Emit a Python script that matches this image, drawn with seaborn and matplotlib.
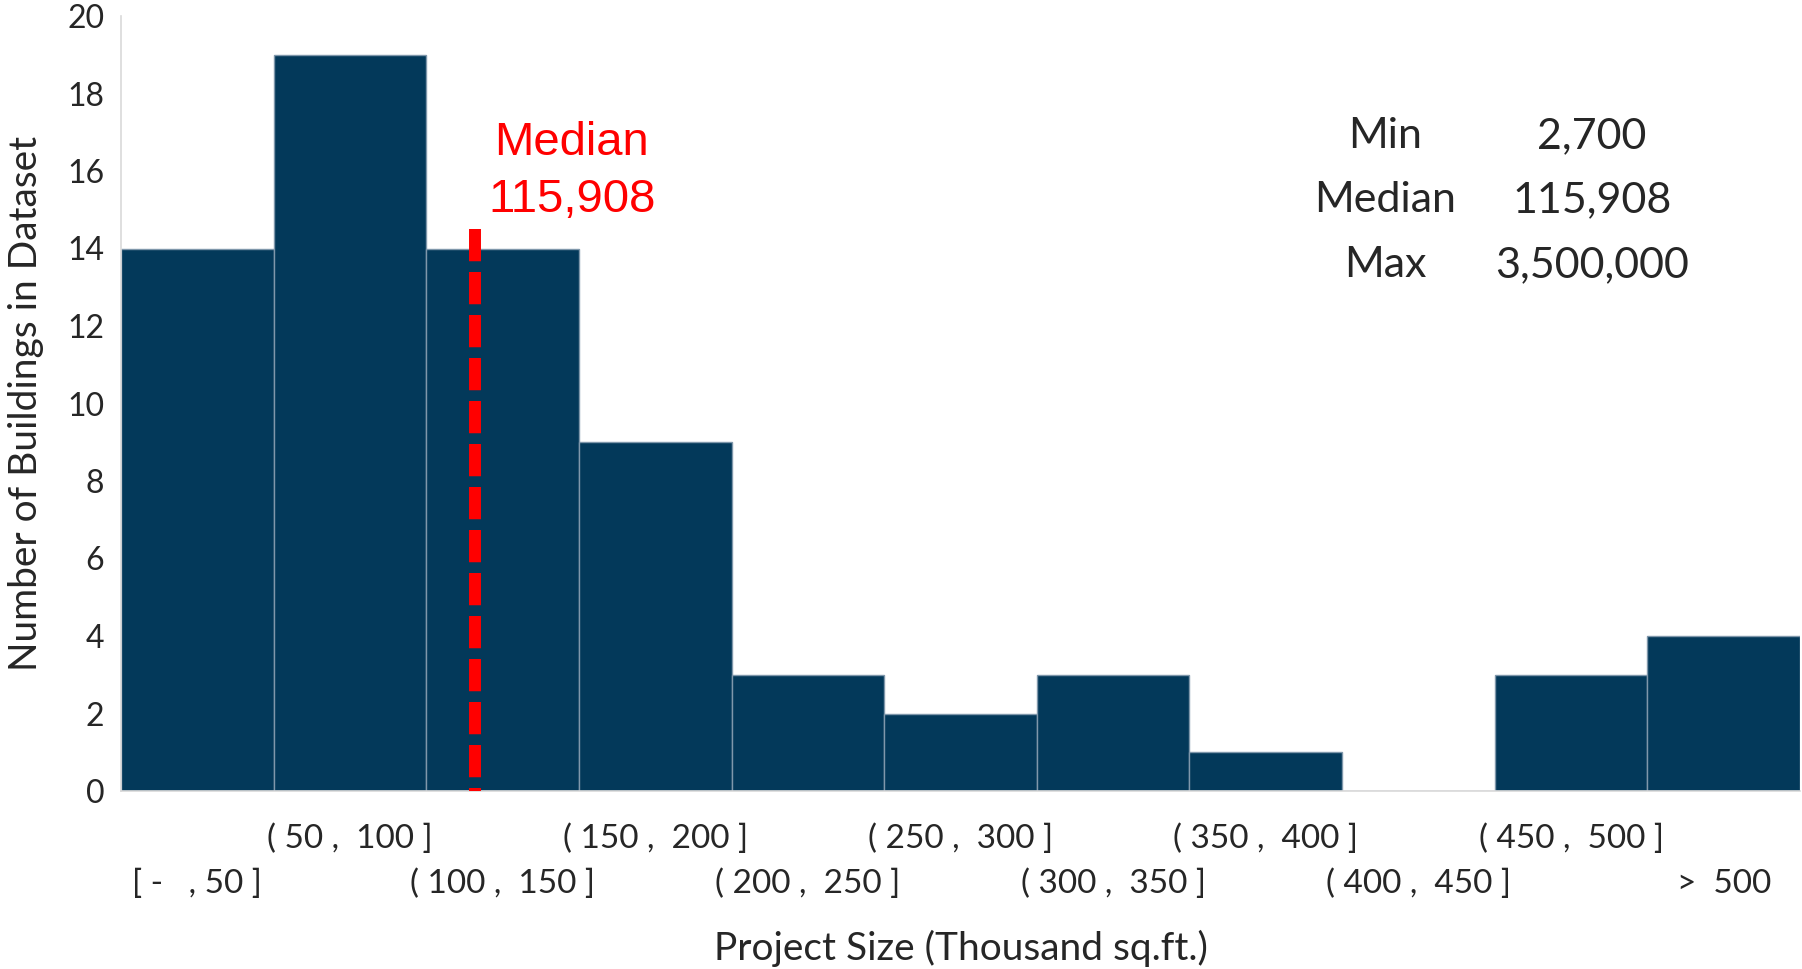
import matplotlib
matplotlib.use("Agg")
import matplotlib.pyplot as plt
import numpy as np
import pandas as pd
import seaborn as sns

# data: building count per project-size bin (thousand sq.ft.)
bin_edges = [0, 50, 100, 150, 200, 250, 300, 350, 400, 450, 500, 550]
counts = [14, 19, 14, 9, 3, 2, 3, 1, 0, 3, 4]
bin_labels = [
    "[ -   , 50 ]", "( 50 ,  100 ]", "( 100 ,  150 ]", "( 150 ,  200 ]",
    "( 200 ,  250 ]", "( 250 ,  300 ]", "( 300 ,  350 ]", "( 350 ,  400 ]",
    "( 400 ,  450 ]", "( 450 ,  500 ]", ">  500",
]
y_ticks = [0, 2, 4, 6, 8, 10, 12, 14, 16, 18, 20]

stat_names = ["Min", "Median", "Max"]
stat_values = [2700, 115908, 3500000]
median_k = 115.908      # median in thousand sq.ft.
median_line_top = 14.5

bar_color = "#03395A"
edge_color = "#7F97AB"

sns.set_style("white")
plt.rcParams["font.family"] = ["Lato", "DejaVu Sans"]

centers = [(a + b) / 2 for a, b in zip(bin_edges[:-1], bin_edges[1:])]
df = pd.DataFrame({"size_k": centers, "n": counts})

fig = plt.figure(figsize=(18.02, 9.69), dpi=100)
ax = fig.add_axes([121 / 1802, 1 - 791 / 969, 1679 / 1802, 775 / 969])

sns.histplot(data=df, x="size_k", weights="n", bins=bin_edges,
             color=bar_color, edgecolor=edge_color, linewidth=1,
             alpha=1, ax=ax)

# median marker (drawn top-down so the dash pattern starts at the top)
ax.plot([median_k, median_k], [median_line_top, 0], color="#FF0000",
        linewidth=8.6, linestyle=(0, (2.7, 0.9)), solid_capstyle="butt",
        dash_capstyle="butt", zorder=5)

ax.set_xlim(bin_edges[0], bin_edges[-1])
ax.set_ylim(y_ticks[0], y_ticks[-1])
ax.set_yticks(y_ticks)
ax.tick_params(axis="y", length=0, pad=12, labelsize=23)

# staggered x tick labels
ax.set_xticks(centers[0::2])
ax.set_xticklabels(bin_labels[0::2])
ax.set_xticks(centers[1::2], minor=True)
ax.set_xticklabels(bin_labels[1::2], minor=True)
ax.tick_params(axis="x", which="minor", length=0, pad=23.5, labelsize=24)
ax.tick_params(axis="x", which="major", length=0, pad=56, labelsize=24)

ax.set_xlabel("Project Size (Thousand sq.ft.)", fontsize=28)
ax.xaxis.set_label_coords(0.5, -0.179)
ax.set_ylabel("Number of Buildings in Dataset", fontsize=28)
ax.yaxis.set_label_coords(-0.046, 0.5)

for s in ["top", "right"]:
    ax.spines[s].set_visible(False)
for s in ["left", "bottom"]:
    ax.spines[s].set_color("#D9D9D9")
    ax.spines[s].set_linewidth(1.2)

# red median annotation
fig.text(572 / 1802, 1 - 155 / 969, "Median", color="#FF0000", fontsize=34,
         family="Liberation Sans", ha="center", va="baseline")
fig.text(572 / 1802, 1 - 212 / 969, f"{stat_values[1]:,}", color="#FF0000",
         fontsize=34, family="Liberation Sans", ha="center", va="baseline")

# summary table
row_base = [148, 212, 277]
for name, val, yb in zip(stat_names, stat_values, row_base):
    fig.text(1385 / 1802, 1 - yb / 969, name, fontsize=31, ha="center", va="baseline")
    fig.text(1592 / 1802, 1 - yb / 969, f"{val:,}", fontsize=31, ha="center", va="baseline")

fig.savefig("out.png", dpi=100)
